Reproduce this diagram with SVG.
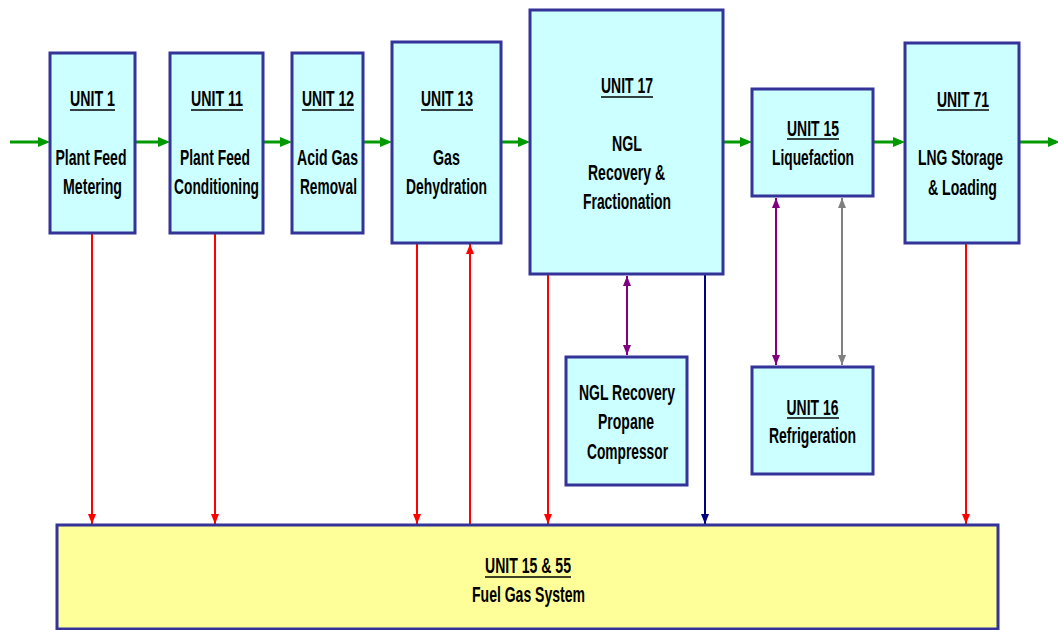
<svg xmlns="http://www.w3.org/2000/svg" width="1058" height="630" viewBox="0 0 1058 630">
<style>
.box{fill:#CCFFFF;stroke:#333399;stroke-width:3}
.fuel{fill:#FFFF99;stroke:#333399;stroke-width:3}
text{font-family:"Liberation Sans Narrow","Liberation Sans",Arial,sans-serif;font-weight:bold;font-size:22px;fill:#000;text-anchor:middle}
.ul{stroke:#000;stroke-width:1.5}
.g{stroke:#009900;stroke-width:3;fill:none}
.r{stroke:#FF0000;stroke-width:2;fill:none}
.n{stroke:#000080;stroke-width:2;fill:none}
.p{stroke:#800080;stroke-width:2;fill:none}
.gy{stroke:#808080;stroke-width:2;fill:none}
</style>
<defs>
<marker id="ag" markerUnits="userSpaceOnUse" markerWidth="12" markerHeight="10" refX="8" refY="5" orient="auto"><path d="M0,0 L12,5 L0,10 z" fill="#009900"/></marker>
<marker id="ar" markerUnits="userSpaceOnUse" markerWidth="10" markerHeight="8" refX="10" refY="4" orient="auto-start-reverse"><path d="M0,0 L10,4 L0,8 z" fill="#FF0000"/></marker>
<marker id="an" markerUnits="userSpaceOnUse" markerWidth="10" markerHeight="8" refX="10" refY="4" orient="auto-start-reverse"><path d="M0,0 L10,4 L0,8 z" fill="#000080"/></marker>
<marker id="ap" markerUnits="userSpaceOnUse" markerWidth="10" markerHeight="8" refX="10" refY="4" orient="auto-start-reverse"><path d="M0,0 L10,4 L0,8 z" fill="#800080"/></marker>
<marker id="agy" markerUnits="userSpaceOnUse" markerWidth="10" markerHeight="8" refX="10" refY="4" orient="auto-start-reverse"><path d="M0,0 L10,4 L0,8 z" fill="#808080"/></marker>
</defs>
<rect width="1058" height="630" fill="#fff"/>

<g id="connectors">
<line class="g" x1="10" y1="142" x2="46" y2="142" marker-end="url(#ag)"/>
<line class="g" x1="135" y1="142" x2="166" y2="142" marker-end="url(#ag)"/>
<line class="g" x1="263" y1="142" x2="288" y2="142" marker-end="url(#ag)"/>
<line class="g" x1="363" y1="142" x2="388" y2="142" marker-end="url(#ag)"/>
<line class="g" x1="501" y1="142" x2="526" y2="142" marker-end="url(#ag)"/>
<line class="g" x1="723" y1="142" x2="748" y2="142" marker-end="url(#ag)"/>
<line class="g" x1="873" y1="142" x2="901" y2="142" marker-end="url(#ag)"/>
<line class="g" x1="1019" y1="142" x2="1056" y2="142" marker-end="url(#ag)"/>
<line class="r" x1="92" y1="233" x2="92" y2="524" marker-end="url(#ar)"/>
<line class="r" x1="215" y1="233" x2="215" y2="524" marker-end="url(#ar)"/>
<line class="r" x1="417" y1="243" x2="417" y2="524" marker-end="url(#ar)"/>
<line class="r" x1="470" y1="525" x2="470" y2="244" marker-end="url(#ar)"/>
<line class="r" x1="548" y1="274" x2="548" y2="524" marker-end="url(#ar)"/>
<line class="n" x1="705" y1="274" x2="705" y2="524" marker-end="url(#an)"/>
<line class="r" x1="966" y1="243" x2="966" y2="524" marker-end="url(#ar)"/>
<line class="p" x1="627" y1="276" x2="627" y2="355" marker-start="url(#ap)" marker-end="url(#ap)"/>
<line class="p" x1="776" y1="198" x2="776" y2="365" marker-start="url(#ap)" marker-end="url(#ap)"/>
<line class="gy" x1="842" y1="198" x2="842" y2="365" marker-start="url(#agy)" marker-end="url(#agy)"/>
</g>

<g id="unit1">
<rect class="box" x="50" y="53" width="85" height="180"/>
<text x="92.5" y="106" textLength="45" lengthAdjust="spacingAndGlyphs">UNIT 1</text>
<line class="ul" x1="70" y1="110" x2="115" y2="110"/>
<text x="91" y="165" textLength="71" lengthAdjust="spacingAndGlyphs">Plant Feed</text>
<text x="92.5" y="194" textLength="59" lengthAdjust="spacingAndGlyphs">Metering</text>
</g>

<g id="unit11">
<rect class="box" x="170" y="53" width="93" height="180"/>
<text x="217" y="106" textLength="52" lengthAdjust="spacingAndGlyphs">UNIT 11</text>
<line class="ul" x1="191" y1="110" x2="243" y2="110"/>
<text x="215" y="165" textLength="70" lengthAdjust="spacingAndGlyphs">Plant Feed</text>
<text x="216.5" y="194" textLength="85" lengthAdjust="spacingAndGlyphs">Conditioning</text>
</g>

<g id="unit12">
<rect class="box" x="292" y="53" width="71" height="180"/>
<text x="328" y="106" textLength="52" lengthAdjust="spacingAndGlyphs">UNIT 12</text>
<line class="ul" x1="302" y1="110" x2="354" y2="110"/>
<text x="327.5" y="165" textLength="61" lengthAdjust="spacingAndGlyphs">Acid Gas</text>
<text x="328.5" y="194" textLength="57" lengthAdjust="spacingAndGlyphs">Removal</text>
</g>

<g id="unit13">
<rect class="box" x="392" y="42" width="109" height="201"/>
<text x="447" y="106" textLength="52" lengthAdjust="spacingAndGlyphs">UNIT 13</text>
<line class="ul" x1="421" y1="110" x2="473" y2="110"/>
<text x="446.5" y="165" textLength="27" lengthAdjust="spacingAndGlyphs">Gas</text>
<text x="446.5" y="194" textLength="81" lengthAdjust="spacingAndGlyphs">Dehydration</text>
</g>

<g id="unit17">
<rect class="box" x="530" y="10" width="193" height="264"/>
<text x="627" y="93" textLength="52" lengthAdjust="spacingAndGlyphs">UNIT 17</text>
<line class="ul" x1="601" y1="97" x2="653" y2="97"/>
<text x="627" y="151" textLength="30" lengthAdjust="spacingAndGlyphs">NGL</text>
<text x="626.5" y="180" textLength="77" lengthAdjust="spacingAndGlyphs">Recovery &amp;</text>
<text x="627" y="209" textLength="88" lengthAdjust="spacingAndGlyphs">Fractionation</text>
</g>

<g id="unit15">
<rect class="box" x="752" y="89" width="121" height="107"/>
<text x="813" y="136" textLength="52" lengthAdjust="spacingAndGlyphs">UNIT 15</text>
<line class="ul" x1="787" y1="139" x2="839" y2="139"/>
<text x="813" y="165" textLength="82" lengthAdjust="spacingAndGlyphs">Liquefaction</text>
</g>

<g id="unit71">
<rect class="box" x="905" y="43" width="114" height="200"/>
<text x="963" y="107" textLength="52" lengthAdjust="spacingAndGlyphs">UNIT 71</text>
<line class="ul" x1="937" y1="110" x2="989" y2="110"/>
<text x="960.5" y="165" textLength="85" lengthAdjust="spacingAndGlyphs">LNG Storage</text>
<text x="962.5" y="195" textLength="69" lengthAdjust="spacingAndGlyphs">&amp; Loading</text>
</g>

<g id="propane">
<rect class="box" x="566" y="357" width="121" height="128"/>
<text x="627" y="400" textLength="96" lengthAdjust="spacingAndGlyphs">NGL Recovery</text>
<text x="626" y="429" textLength="56" lengthAdjust="spacingAndGlyphs">Propane</text>
<text x="627.5" y="459" textLength="81" lengthAdjust="spacingAndGlyphs">Compressor</text>
</g>

<g id="unit16">
<rect class="box" x="752" y="367" width="121" height="107"/>
<text x="812.5" y="415" textLength="52" lengthAdjust="spacingAndGlyphs">UNIT 16</text>
<line class="ul" x1="787" y1="418" x2="839" y2="418"/>
<text x="812.5" y="443" textLength="87" lengthAdjust="spacingAndGlyphs">Refrigeration</text>
</g>

<g id="fuelgas">
<rect class="fuel" x="57" y="525" width="941" height="104"/>
<text x="528" y="573" textLength="86" lengthAdjust="spacingAndGlyphs">UNIT 15 &amp; 55</text>
<line class="ul" x1="485" y1="577" x2="571" y2="577"/>
<text x="528.5" y="602" textLength="113" lengthAdjust="spacingAndGlyphs">Fuel Gas System</text>
</g>
</svg>
